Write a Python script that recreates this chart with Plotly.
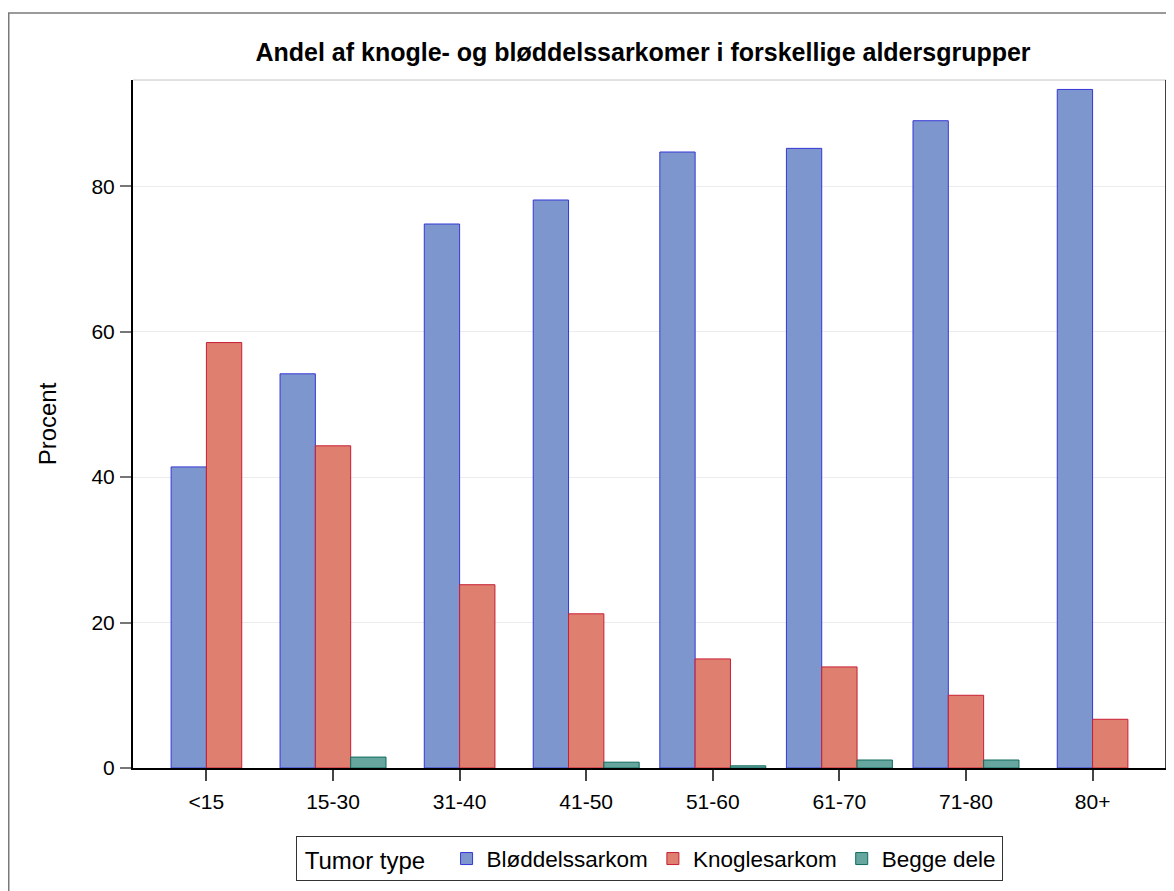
import plotly.graph_objects as go

# ---- data ----
categories = ["<15", "15-30", "31-40", "41-50", "51-60", "61-70", "71-80", "80+"]
series_names = ["Bløddelssarkom", "Knoglesarkom", "Begge dele"]
bloddel = [41.4, 54.2, 74.8, 78.1, 84.7, 85.2, 89.0, 93.3]
knogle = [58.5, 44.3, 25.2, 21.2, 15.0, 13.9, 10.0, 6.7]
begge = [None, 1.5, None, 0.8, 0.3, 1.1, 1.1, None]
y_ticks = [0, 20, 40, 60, 80]

title_text = "Andel af knogle- og bløddelssarkomer i forskellige aldersgrupper"
y_title = "Procent"
legend_title = "Tumor type"

# ---- style / layout (page body has an 8px margin) ----
OFF = 8
W, H = 1174 - OFF, 891 - OFF
PLOT_L, PLOT_R, PLOT_T, PLOT_B = 133, 1166, 80, 768.5   # screen px
L = PLOT_L - OFF
R = W - (PLOT_R - OFF)
T = PLOT_T - OFF
B = H - (PLOT_B - OFF)
FONT = "Liberation Sans, Arial, sans-serif"
fills = ["#7d96cd", "#df7f70", "#67a69f"]
lines = ["#3636d6", "#c81e34", "#0e6a5c"]
bar_w = 0.279

all_series = [bloddel, knogle, begge]
# cluster bars per category using only the series present (like SAS cluster)
offsets = [[0.0] * len(categories) for _ in all_series]
for i in range(len(categories)):
    present = [k for k, s in enumerate(all_series) if s[i] is not None]
    n = len(present)
    for j, k in enumerate(present):
        offsets[k][i] = (j - n / 2) * bar_w

fig = go.Figure()
for k, (name, vals) in enumerate(zip(series_names, all_series)):
    fig.add_trace(go.Bar(
        x=categories, y=vals, name=name,
        width=bar_w, offset=offsets[k],
        marker=dict(color=fills[k], line=dict(color=lines[k], width=1)),
    ))

pw = W - L - R
ph = H - T - B
def px_x(sx):
    return (sx - OFF - L) / pw
def px_y(sy):
    return (H - B - (sy - OFF)) / ph

shapes = [
    # outer frame (extends past window)
    dict(type="rect", xref="paper", yref="paper", x0=px_x(8.75), x1=px_x(1200),
         y0=px_y(920), y1=px_y(13), line=dict(color="#7a7a7a", width=1.5), layer="below"),
    # plot top border (light) and right border (black)
    dict(type="line", xref="paper", yref="paper", x0=0, x1=1, y0=1, y1=1,
         line=dict(color="#c4c4c4", width=1)),
    dict(type="line", xref="paper", yref="paper", x0=1, x1=1, y0=0, y1=1,
         line=dict(color="#000000", width=1.5)),
]

fig.update_layout(
    width=W, height=H,
    margin=dict(l=L, r=R, t=T, b=B, pad=0),
    paper_bgcolor="white", plot_bgcolor="white",
    barmode="overlay",
    font=dict(family=FONT, size=21, color="black"),
    title=dict(text="<b>" + title_text + "</b>", x=(643 - OFF) / W,
               xanchor="center", y=1 - (52 - OFF) / H, yanchor="middle",
               font=dict(family=FONT, size=25, color="black")),
    xaxis=dict(type="category", range=[-0.58, 7.58], showgrid=False,
               showline=True, linecolor="black", linewidth=2,
               ticks="outside", ticklen=11, tickcolor="#444", tickwidth=1.5,
               tickfont=dict(size=21), ticklabelstandoff=3, zeroline=False),
    yaxis=dict(range=[0, 94.6], tickvals=y_ticks, showgrid=True, gridcolor="#ececec",
               gridwidth=1, showline=True, linecolor="black", linewidth=2,
               ticks="outside", ticklen=11, tickcolor="#777", tickwidth=1.5,
               tickfont=dict(size=21), zeroline=False, ticklabelstandoff=1,
               title=dict(text=y_title, font=dict(size=24), standoff=28)),
    legend=dict(orientation="h", x=px_x(649), xanchor="center",
                y=px_y(859.5), yanchor="middle",
                title=dict(text=" " + legend_title + "  ", side="left", font=dict(size=24)),
                bordercolor="#333", borderwidth=1, bgcolor="white",
                font=dict(size=22.5), itemwidth=30, tracegroupgap=0),
    shapes=shapes,
    showlegend=True,
)

fig.write_html("out.html")
